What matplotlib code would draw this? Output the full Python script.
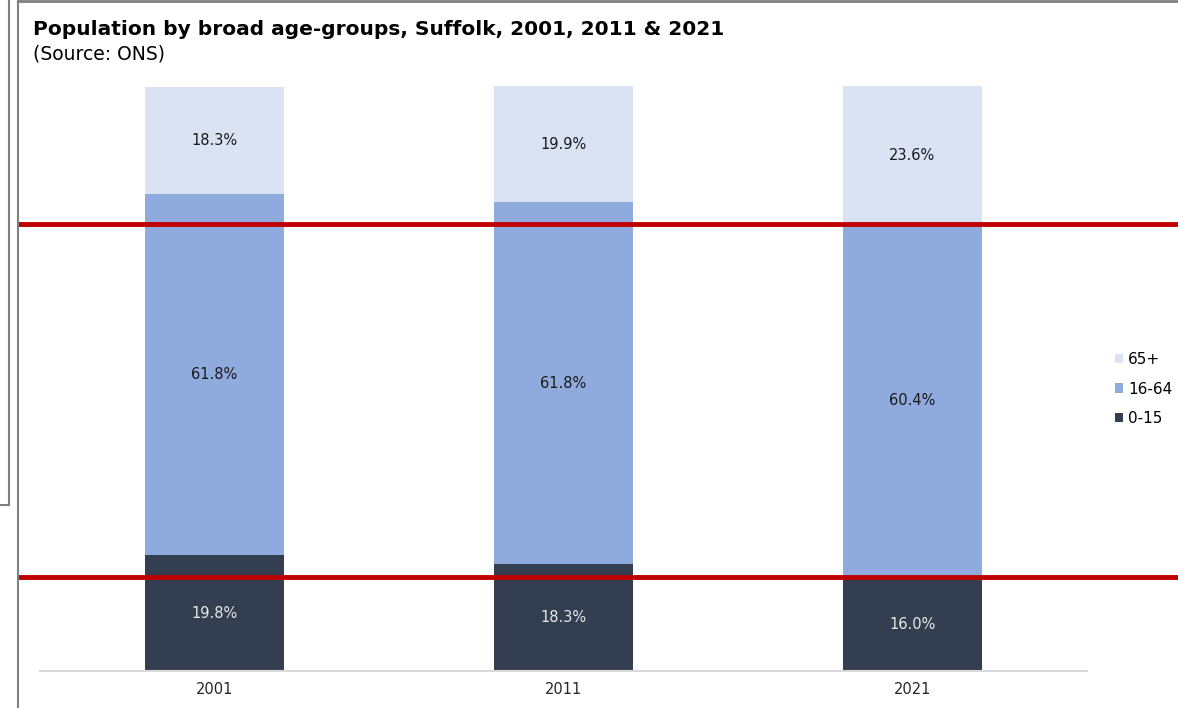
import matplotlib.pyplot as plt
import numpy as np
from matplotlib.lines import Line2D
from matplotlib.transforms import blended_transform_factory

# Suffolk population share by broad age group (ONS)
years = ["2001", "2011", "2021"]
groups = ["0-15", "16-64", "65+"]
age_0_15 = [19.8, 18.3, 16.0]
age_16_64 = [61.8, 61.8, 60.4]
age_65_plus = [18.3, 19.9, 23.6]

colours = ["#333F50", "#8FAADC", "#DAE3F3"]
label_colours = ["#E8E8E8", "#1A1A1A", "#1A1A1A"]

W, H = 1178, 708
fig = plt.figure(figsize=(W / 100, H / 100), dpi=100)
ax = fig.add_axes([40 / W, 37 / H, 1047 / W, 585 / H])

x = np.arange(len(years))
bottom = np.zeros(len(years))
bars = []
for vals, grp, col, tcol in zip([age_0_15, age_16_64, age_65_plus], groups, colours, label_colours):
    vals = np.array(vals)
    b = ax.bar(x, vals, width=0.4, bottom=bottom, color=col, label=grp, zorder=2)
    bars.append(b)
    for xi, v, b0 in zip(x, vals, bottom):
        ax.text(xi, b0 + v / 2, f"{v:.1f}%", ha="center", va="center",
                fontsize=10.5, color=tcol, zorder=3)
    bottom = bottom + vals

ax.set_xlim(-0.5, len(years) - 0.5)
ax.set_ylim(0, 100)
ax.set_xticks(x)
ax.set_xticklabels(years, fontsize=10.5, color="#262626")
ax.tick_params(axis="x", length=0, pad=8)
ax.set_yticks([])
for side in ["top", "right", "left"]:
    ax.spines[side].set_visible(False)
ax.spines["bottom"].set_color("#D9D9D9")
ax.spines["bottom"].set_linewidth(1.5)

# red marker lines at the 2021 group boundaries
trans = blended_transform_factory(fig.transFigure, ax.transData)
for level in [age_0_15[-1], age_0_15[-1] + age_16_64[-1]]:
    ax.plot([20 / W, 1.0], [level, level], color="#C00000", lw=3.5,
            transform=trans, clip_on=False, zorder=4)

handles = [bars[2], bars[1], bars[0]]
fig.legend(handles, ["65+", "16-64", "0-15"], loc="center left",
           bbox_to_anchor=(1115 / W, 1 - 389 / H), frameon=False, fontsize=11,
           handlelength=0.55, handleheight=0.55, handletextpad=0.3,
           labelspacing=0.95, borderpad=0, borderaxespad=0)

fig.text(33 / W, 1 - 35 / H, "Population by broad age-groups, Suffolk, 2001, 2011 & 2021",
         fontsize=14.5, fontweight="bold", va="baseline", ha="left")
fig.text(33 / W, 1 - 59 / H, "(Source: ONS)", fontsize=13.5, va="baseline", ha="left")

# grey frame edges
grey = "#808080"
fig.add_artist(Line2D([9 / W, 9 / W], [1, 1 - 505 / H], color=grey, lw=1.5, transform=fig.transFigure))
fig.add_artist(Line2D([0, 9 / W], [1 - 505 / H, 1 - 505 / H], color=grey, lw=1.5, transform=fig.transFigure))
fig.add_artist(Line2D([18 / W, 18 / W], [0, 1], color=grey, lw=1.5, transform=fig.transFigure))
fig.add_artist(Line2D([18 / W, 1], [1 - 1 / H, 1 - 1 / H], color=grey, lw=2, transform=fig.transFigure))

fig.savefig("out.png", dpi=100)
